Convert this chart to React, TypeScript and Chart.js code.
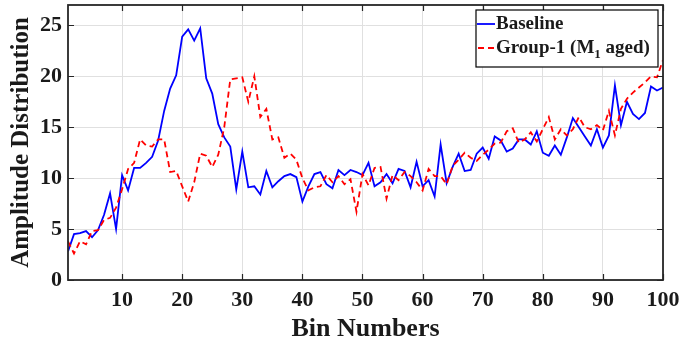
import React, { useEffect, useRef } from 'react';
import { Chart, registerables } from 'chart.js';

Chart.register(...registerables);

const bins = Array.from({ length: 100 }, (_, i) => i + 1);

const baseline = [
  2.8, 4.5, 4.6, 4.8, 4.2, 4.9, 6.4, 8.5, 5.0, 10.3,
  8.8, 11.0, 11.0, 11.5, 12.1, 13.7, 16.6, 18.8, 20.1, 23.9,
  24.6, 23.5, 24.7, 19.8, 18.3, 15.3, 14.0, 13.1, 8.9, 12.6,
  9.1, 9.2, 8.4, 10.7, 9.1, 9.7, 10.2, 10.4, 10.1, 7.7,
  9.2, 10.4, 10.6, 9.4, 9.0, 10.8, 10.3, 10.8, 10.6, 10.3,
  11.5, 9.2, 9.6, 10.4, 9.5, 10.9, 10.7, 9.1, 11.6, 9.2,
  9.8, 8.2, 13.3, 9.5, 11.1, 12.4, 10.7, 10.8, 12.4, 13.0,
  11.9, 14.1, 13.7, 12.6, 12.9, 13.8, 13.8, 13.3, 14.6, 12.5,
  12.2, 13.2, 12.3, 14.0, 15.9, 15.0, 14.1, 13.2, 14.8, 13.0,
  14.2, 19.1, 15.2, 17.5, 16.3, 15.8, 16.4, 19.0, 18.6, 18.9,
];

const group1 = [
  3.8, 2.6, 3.8, 3.5, 4.8, 4.9, 5.9, 6.1, 7.1, 8.9,
  10.9, 11.5, 13.8, 13.2, 13.1, 13.8, 13.8, 10.6, 10.7, 9.2,
  7.7, 9.6, 12.4, 12.2, 11.1, 12.3, 15.0, 19.7, 19.8, 19.9,
  17.5, 20.0, 16.0, 16.8, 13.8, 14.0, 12.0, 12.4, 11.8, 10.0,
  8.8, 9.1, 9.2, 10.3, 9.6, 10.2, 9.4, 9.9, 6.7, 10.4,
  9.3, 11.0, 11.1, 8.0, 10.3, 9.8, 10.6, 10.2, 9.6, 8.8,
  10.9, 10.2, 10.2, 9.4, 11.2, 11.8, 12.5, 12.0, 11.7, 12.3,
  12.8, 13.4, 13.5, 14.6, 14.9, 13.5, 13.8, 14.5, 13.6, 14.8,
  16.0, 13.8, 14.8, 14.2, 14.8, 16.0, 15.0, 14.8, 15.2, 14.7,
  16.6, 14.2, 16.8, 17.8, 18.4, 18.9, 19.4, 20.0, 19.9, 21.6,
];

const xTicks = [10, 20, 30, 40, 50, 60, 70, 80, 90, 100];
const yTicks = [0, 5, 10, 15, 20, 25];

const FONT = "'Liberation Serif', 'Times New Roman', serif";
const TEXT = '#1a1a1a';
const BLUE = '#0000ff';
const RED = '#ff0000';

export default function App() {
  const ref = useRef<HTMLCanvasElement>(null);

  useEffect(() => {
    if (!ref.current) return;

    const framePlugin = {
      id: 'frame',
      afterDraw(chart: any) {
        const { ctx, chartArea } = chart;
        const { left, right, top, bottom } = chartArea;
        const xs = chart.scales.x;
        const ys = chart.scales.y;
        ctx.save();
        ctx.strokeStyle = '#262626';
        ctx.lineWidth = 1.2;
        const tl = 6;
        ctx.beginPath();
        xTicks.forEach((v) => {
          const px = Math.round(xs.getPixelForValue(v)) + 0.5;
          ctx.moveTo(px, bottom);
          ctx.lineTo(px, bottom - tl);
          ctx.moveTo(px, top);
          ctx.lineTo(px, top + tl);
        });
        yTicks.forEach((v) => {
          const py = Math.round(ys.getPixelForValue(v)) + 0.5;
          ctx.moveTo(left, py);
          ctx.lineTo(left + tl, py);
          ctx.moveTo(right, py);
          ctx.lineTo(right - tl, py);
        });
        ctx.stroke();
        ctx.lineWidth = 1.8;
        ctx.strokeRect(left, top, right - left, bottom - top);

        // legend box
        const bw = 182;
        const bh = 57;
        const bx = right - 5 - bw;
        const by = top + 5;
        ctx.fillStyle = '#ffffff';
        ctx.fillRect(bx, by, bw, bh);
        ctx.lineWidth = 1.2;
        ctx.strokeStyle = '#000';
        ctx.strokeRect(bx, by, bw, bh);

        const row1 = by + 14;
        const row2 = by + 38;
        ctx.lineWidth = 1.8;
        ctx.strokeStyle = BLUE;
        ctx.beginPath();
        ctx.moveTo(bx + 1, row1);
        ctx.lineTo(bx + 19, row1);
        ctx.stroke();
        ctx.strokeStyle = RED;
        ctx.setLineDash([6, 4]);
        ctx.beginPath();
        ctx.moveTo(bx + 2, row2);
        ctx.lineTo(bx + 19, row2);
        ctx.stroke();
        ctx.setLineDash([]);

        ctx.fillStyle = TEXT;
        ctx.textBaseline = 'middle';
        ctx.textAlign = 'left';
        ctx.font = `bold 19px ${FONT}`;
        const tx = bx + 20;
        ctx.fillText('Baseline', tx, row1);
        let cx = tx;
        const p1 = 'Group-1 (M';
        ctx.fillText(p1, cx, row2);
        cx += ctx.measureText(p1).width;
        ctx.font = `bold 13px ${FONT}`;
        ctx.fillText('1', cx, row2 + 7);
        cx += ctx.measureText('1').width;
        ctx.font = `bold 19px ${FONT}`;
        ctx.fillText(' aged)', cx, row2);
        ctx.restore();
      },
    };

    const chart = new Chart(ref.current, {
      type: 'line',
      data: {
        datasets: [
          {
            label: 'Baseline',
            data: bins.map((b, i) => ({ x: b, y: baseline[i] })),
            borderColor: BLUE,
            backgroundColor: BLUE,
            borderWidth: 1.8,
            pointRadius: 0,
            tension: 0,
            order: 1,
          },
          {
            label: 'Group-1 (M₁ aged)',
            data: bins.map((b, i) => ({ x: b, y: group1[i] })),
            borderColor: RED,
            backgroundColor: RED,
            borderWidth: 1.8,
            borderDash: [6, 4],
            pointRadius: 0,
            tension: 0,
            order: 0,
          },
        ],
      },
      options: {
        animation: false,
        responsive: true,
        maintainAspectRatio: false,
        layout: { padding: { top: 5, right: 24, left: 0, bottom: 0 } },
        plugins: {
          legend: { display: false },
          tooltip: { enabled: false },
        },
        scales: {
          x: {
            type: 'linear',
            min: 1,
            max: 100,
            afterBuildTicks: (s: any) => {
              s.ticks = xTicks.map((v) => ({ value: v }));
            },
            afterFit: (s: any) => {
              s.height = 69;
              s.paddingLeft = 0;
              s.paddingRight = 0;
            },
            ticks: {
              autoSkip: false,
              maxRotation: 0,
              padding: 7,
              color: TEXT,
              font: { family: FONT, size: 22, weight: 'bold' },
            },
            grid: { color: '#e0e0e0', lineWidth: 1, drawTicks: false },
            border: { display: false },
            title: {
              display: true,
              text: 'Bin Numbers',
              color: TEXT,
              font: { family: FONT, size: 26, weight: 'bold' },
              padding: { top: 0, bottom: 4 },
            },
          },
          y: {
            type: 'linear',
            min: 0,
            max: 27,
            afterBuildTicks: (s: any) => {
              s.ticks = yTicks.map((v) => ({ value: v }));
            },
            afterFit: (s: any) => {
              s.width = 68;
              s.paddingTop = 0;
              s.paddingBottom = 0;
            },
            ticks: {
              padding: 6,
              color: TEXT,
              font: { family: FONT, size: 22, weight: 'bold' },
            },
            grid: { color: '#e0e0e0', lineWidth: 1, drawTicks: false },
            border: { display: false },
            title: {
              display: true,
              text: 'Amplitude Distribution',
              color: TEXT,
              font: { family: FONT, size: 25, weight: 'bold' },
              padding: { top: 7, bottom: 0 },
            },
          },
        },
      },
      plugins: [framePlugin],
    } as any);

    return () => chart.destroy();
  }, []);

  return (
    <div style={{ position: 'fixed', left: 0, top: 0, width: 687, height: 349, background: '#fff' }}>
      <canvas ref={ref} />
    </div>
  );
}
